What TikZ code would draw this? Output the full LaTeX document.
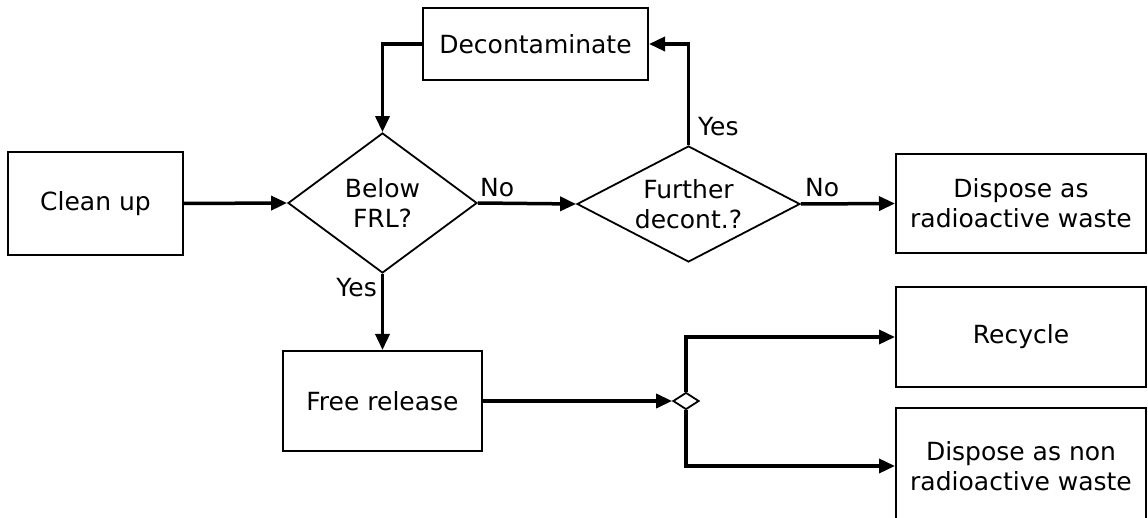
\documentclass[tikz,border=0pt]{standalone}
\usepackage{fontspec}
\setmainfont{DejaVu Sans}
\usetikzlibrary{shapes.geometric,arrows.meta}
\begin{document}
\begin{tikzpicture}[x=1pt,y=-1pt,
  txt/.style={font=\fontsize{25}{30}\selectfont, align=center},
  box/.style={txt, draw, line width=2pt, rectangle, inner sep=0pt},
  dec/.style={txt, draw, line width=1.8pt, diamond, inner sep=0pt},
  lbl/.style={font=\fontsize{25}{30}\selectfont, inner sep=0pt},
  conn/.style={line width=3.5pt, -{Triangle[length=16pt,width=14pt]}}]
\useasboundingbox (0,0) rectangle (1148,518);
% nodes
\node[box, minimum width=175pt, minimum height=103pt] (clean) at (95.5,203.5) {Clean up};
\node[dec, shape aspect=1.35, minimum width=189pt, minimum height=140pt] (below) at (382.5,203) {Below\\FRL?};
\node[dec, shape aspect=1.93, minimum width=223pt, minimum height=116pt] (further) at (688.5,204) {Further\\decont.?};
\node[box, minimum width=225pt, minimum height=72pt] (decon) at (535.5,44) {Decontaminate};
\node[box, minimum width=250pt, minimum height=99pt] (drad) at (1021,203.5) {Dispose as\\radioactive waste};
\node[box, minimum width=250pt, minimum height=100pt] (rec) at (1021,337) {Recycle};
\node[box, minimum width=250pt, minimum height=116pt] (dnon) at (1021,466) {Dispose as non\\radioactive waste};
\node[box, minimum width=199pt, minimum height=100pt] (free) at (382.5,401) {Free release};
\node[draw, diamond, line width=1.8pt, inner sep=0pt, minimum width=26pt, minimum height=17pt] (j) at (686,401) {};
% labels
\node[lbl, anchor=base west] (no1) at (480,197) {No};
\node[lbl, anchor=base west] (no2) at (805,197) {No};
\node[lbl, anchor=base west] (yes1) at (698,136) {Yes};
\node[lbl, anchor=base east] (yes2) at (377,297) {Yes};
% connectors
\draw[conn] (clean.east) -- (below.west);
\draw[conn] (below.east) -- (further.west);
\draw[conn] (further.east) -- (drad.west);
\draw[conn] (further.north) |- (decon.east);
\draw[conn] (decon.west) -| (below.north);
\draw[conn] (below.south) -- (free.north);
\draw[conn] (free.east) -- (j.west);
\draw[conn] (j.north) |- (rec.west);
\draw[conn] (j.south) |- (dnon.west);
\end{tikzpicture}
\end{document}
